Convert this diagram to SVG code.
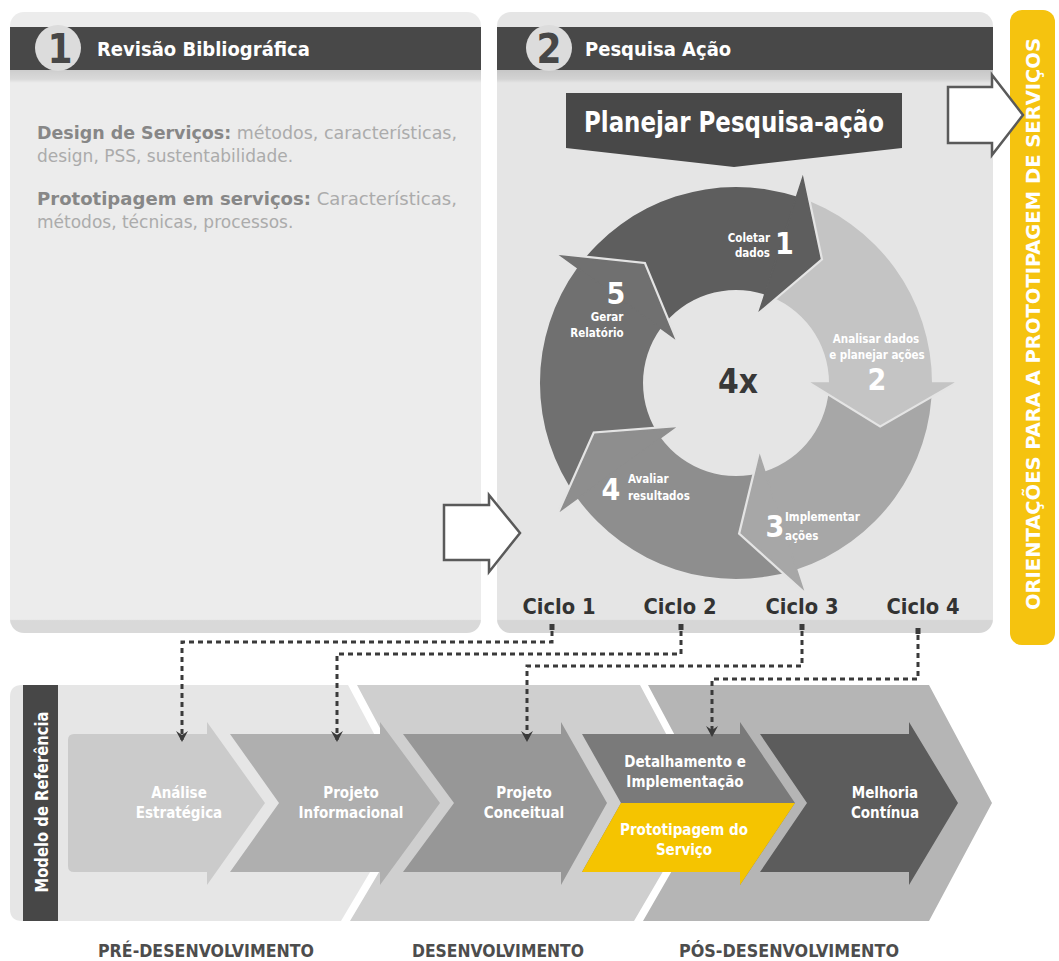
<svg xmlns="http://www.w3.org/2000/svg" width="1059" height="961" viewBox="0 0 1059 961">
<defs>
<style>
text{font-family:'DejaVu Sans Condensed','DejaVu Sans',sans-serif}
.hdr{fill:#484848}
.title{fill:#fff;font-size:20px;font-weight:bold}
.num{fill:#474747;font-size:40px;font-weight:bold;text-anchor:middle}
.ncirc{fill:#dcdcdc}
.body{font-family:'DejaVu Sans',sans-serif;font-size:17px;fill:#ababab}
.bb{font-weight:bold;fill:#878787}
.cyc{fill:#fff;font-weight:bold;font-size:11.5px}
.cycn{fill:#fff;font-weight:bold;font-size:30px}
.ciclo{fill:#333;font-size:21px;font-weight:bold;text-anchor:middle}
.stage{fill:#fff;font-size:15px;font-weight:bold;text-anchor:middle}
.phase{fill:#4d4d4d;font-size:17px;font-weight:bold;text-anchor:middle}
.conn{fill:none;stroke:#3a3a3a;stroke-width:3;stroke-dasharray:5 4}
.dot{fill:#3a3a3a}
.warrow{fill:#fff;stroke:#5a5a5a;stroke-width:2.5;stroke-linejoin:miter}
.gap{fill:none;stroke:#e4e4e4;stroke-width:6;stroke-linejoin:miter}
</style>
<linearGradient id="pg1" x1="0" y1="0" x2="0" y2="1">
<stop offset="0" stop-color="#ececec"/><stop offset="0.978" stop-color="#ececec"/><stop offset="0.98" stop-color="#d9d9d9"/><stop offset="1" stop-color="#d9d9d9"/>
</linearGradient>
<linearGradient id="pg2" x1="0" y1="0" x2="0" y2="1">
<stop offset="0" stop-color="#e5e5e5"/><stop offset="0.978" stop-color="#e5e5e5"/><stop offset="0.98" stop-color="#d6d6d6"/><stop offset="1" stop-color="#d6d6d6"/>
</linearGradient>
<linearGradient id="sh" x1="0" y1="0" x2="0" y2="1">
<stop offset="0" stop-color="#000" stop-opacity="0.13"/><stop offset="0.7" stop-color="#000" stop-opacity="0.08"/><stop offset="1" stop-color="#000" stop-opacity="0"/>
</linearGradient>
<marker id="ah" viewBox="0 0 12 12" refX="9" refY="6" markerWidth="12" markerHeight="12" markerUnits="userSpaceOnUse" orient="auto">
<path d="M0,0 L11,6 L0,12 L4,6 Z" fill="#3a3a3a"/>
</marker>
</defs>

<g id="panel-revisao">
<rect x="10" y="12" width="471" height="621" rx="14" fill="url(#pg1)"/>
<rect class="hdr" x="10" y="27" width="471" height="43"/>
<rect x="10" y="70" width="471" height="13" fill="url(#sh)"/>
<circle class="ncirc" cx="58" cy="48" r="23"/>
<text class="num" x="60" y="63">1</text>
<text class="title" x="97" y="56">Revisão Bibliográfica</text>
<text class="body" x="37" y="139" textLength="420" lengthAdjust="spacingAndGlyphs"><tspan class="bb">Design de Serviços:</tspan> métodos, características,</text>
<text class="body" x="37" y="162">design, PSS, sustentabilidade.</text>
<text class="body" x="37" y="205" textLength="420" lengthAdjust="spacingAndGlyphs"><tspan class="bb">Prototipagem em serviços:</tspan> Características,</text>
<text class="body" x="37" y="228">métodos, técnicas, processos.</text>
</g>

<g id="panel-pesquisa">
<rect x="497" y="12" width="496" height="621" rx="14" fill="url(#pg2)"/>
<rect class="hdr" x="497" y="27" width="496" height="43"/>
<rect x="497" y="70" width="496" height="13" fill="url(#sh)"/>
<circle class="ncirc" cx="549" cy="48" r="23"/>
<text class="num" x="549" y="63">2</text>
<text class="title" x="585" y="56">Pesquisa Ação</text>
</g>

<g id="planejar">
<polygon points="566,93 902,93 902,148 734,167 566,148" fill="#484848"/>
<text x="734" y="132" fill="#fff" font-size="29" font-weight="bold" text-anchor="middle" textLength="300" lengthAdjust="spacingAndGlyphs">Planejar Pesquisa-ação</text>
</g>

<g id="ciclo-pesquisa">
<path d="M577.4,267.8 A196,196 0 0 1 796.6,196.6 L764.7,294.5 A93,93 0 0 0 660.8,328.3 Z" fill="#5e5e5e"/>
<path d="M796.6,196.6 A196,196 0 0 1 932,383 L829,383 A93,93 0 0 0 764.7,294.5 Z" fill="#c4c4c4"/>
<path d="M932,383 A196,196 0 0 1 796.6,569.4 L764.7,471.5 A93,93 0 0 0 829,383 Z" fill="#a7a7a7"/>
<path d="M796.6,569.4 A196,196 0 0 1 577.4,498.2 L660.8,437.7 A93,93 0 0 0 764.7,471.5 Z" fill="#8e8e8e"/>
<path d="M577.4,498.2 A196,196 0 0 1 577.4,267.8 L660.8,328.3 A93,93 0 0 0 660.8,437.7 Z" fill="#707070"/>
<polyline class="gap" points="802.7,177.6 819.9,258.6 759.8,309.8"/>
<polygon points="759.8,309.8 802.7,177.6 819.9,258.6" fill="#5e5e5e" stroke="#5e5e5e" stroke-width="1.5"/>
<polyline class="gap" points="952,383 880.2,424.3 813,383"/>
<polygon points="952,383 880.2,424.3 813,383" fill="#c4c4c4" stroke="#c4c4c4" stroke-width="1.5"/>
<polyline class="gap" points="802.7,588.4 741.2,532.9 759.8,456.2"/>
<polygon points="802.7,588.4 741.2,532.9 759.8,456.2" fill="#a7a7a7" stroke="#a7a7a7" stroke-width="1.5"/>
<polyline class="gap" points="561.3,510 595,434.3 673.7,428.3"/>
<polygon points="561.3,510 595,434.3 673.7,428.3" fill="#8e8e8e" stroke="#8e8e8e" stroke-width="1.5"/>
<polyline class="gap" points="561.3,256 643.6,264.8 673.7,337.7"/>
<polygon points="561.3,256 643.6,264.8 673.7,337.7" fill="#707070" stroke="#707070" stroke-width="1.5"/>
<text x="738" y="393" fill="#383838" font-size="34" font-weight="bold" text-anchor="middle" textLength="40" lengthAdjust="spacingAndGlyphs">4x</text>
<text class="cyc" x="770" y="242" text-anchor="end">Coletar</text>
<text class="cyc" x="770" y="257" text-anchor="end">dados</text>
<text class="cycn" x="775" y="254" font-size="26">1</text>
<text class="cyc" x="876" y="343" text-anchor="middle" fill="#f4f4f4">Analisar dados</text>
<text class="cyc" x="877" y="359" text-anchor="middle" fill="#f4f4f4">e planejar ações</text>
<text class="cycn" x="877" y="390" text-anchor="middle">2</text>
<text class="cycn" x="775" y="537" text-anchor="middle">3</text>
<text class="cyc" x="785" y="521">Implementar</text>
<text class="cyc" x="785" y="540">ações</text>
<text class="cycn" x="611" y="500" text-anchor="middle">4</text>
<text class="cyc" x="628" y="483">Avaliar</text>
<text class="cyc" x="628" y="500">resultados</text>
<text class="cycn" x="616" y="304" text-anchor="middle">5</text>
<text class="cyc" x="607" y="321" text-anchor="middle">Gerar</text>
<text class="cyc" x="597" y="337" text-anchor="middle">Relatório</text>
</g>

<g id="ciclos">
<text class="ciclo" x="559" y="614" textLength="73" lengthAdjust="spacingAndGlyphs">Ciclo 1</text>
<text class="ciclo" x="680" y="614" textLength="73" lengthAdjust="spacingAndGlyphs">Ciclo 2</text>
<text class="ciclo" x="802" y="614" textLength="73" lengthAdjust="spacingAndGlyphs">Ciclo 3</text>
<text class="ciclo" x="923" y="614" textLength="73" lengthAdjust="spacingAndGlyphs">Ciclo 4</text>
</g>

<g id="orientacoes">
<rect x="1010" y="10" width="45" height="635" rx="12" fill="#f5c30f"/>
<text transform="translate(1040,324) rotate(-90)" fill="#fff" font-size="19" font-weight="bold" text-anchor="middle" textLength="572" lengthAdjust="spacingAndGlyphs">ORIENTAÇÕES PARA A PROTOTIPAGEM DE SERVIÇOS</text>
</g>

<g id="setas-brancas">
<polygon class="warrow" points="948,87 992,87 992,75 1023,115 992,155 992,143 948,143"/>
<polygon class="warrow" points="444,505 489,505 489,495 520,533 489,572 489,560 444,560"/>
</g>

<g id="modelo-referencia">
<path d="M22,685 H348 L411,803 L341,921 H22 Q10,921 10,909 V697 Q10,685 22,685 Z" fill="#e6e6e6"/>
<path d="M357,685 H640 L703,803 L634,921 H350 L420,803 Z" fill="#cfcfcf"/>
<path d="M648,685 H929 L992,803 L929,921 H643 L711,803 Z" fill="#b5b5b5"/>
<rect x="23" y="685" width="35" height="236" fill="#474747"/>
<text transform="translate(48,802) rotate(-90)" fill="#fff" font-size="17" font-weight="bold" text-anchor="middle" textLength="181" lengthAdjust="spacingAndGlyphs">Modelo de Referência</text>
</g>

<g id="analise-estrategica">
<path d="M74,734 H207 V722 L265,803 L207,885 V872 H74 Q68,872 68,866 V740 Q68,734 74,734 Z" fill="#cbcbcb"/>
<text class="stage" x="179" y="798" fill="#f3f3f3">Análise</text>
<text class="stage" x="179" y="818" fill="#f3f3f3">Estratégica</text>
</g>
<g id="projeto-informacional">
<path d="M230,734 H380 V722 L440,803 L380,885 V872 H230 L279,803 Z" fill="#afafaf"/>
<text class="stage" x="351" y="798">Projeto</text>
<text class="stage" x="351" y="818">Informacional</text>
</g>
<g id="projeto-conceitual">
<path d="M403,734 H561 V722 L607,803 L561,885 V872 H403 L454,803 Z" fill="#979797"/>
<text class="stage" x="524" y="798">Projeto</text>
<text class="stage" x="524" y="818">Conceitual</text>
</g>
<g id="detalhamento">
<path d="M582,734 H740 V722 L795,803 L740,885 V872 H582 L621,803 Z" fill="#7a7a7a"/>
<path d="M621,803 H795 L740,885 V872 H582 Z" fill="#f5c400"/>
<text class="stage" x="685" y="767">Detalhamento e</text>
<text class="stage" x="685" y="787">Implementação</text>
<text class="stage" x="684" y="835" fill="#4a3c00">Prototipagem do</text>
<text class="stage" x="684" y="855" fill="#4a3c00">Serviço</text>
</g>
<g id="melhoria-continua">
<path d="M760,734 H909 V722 L958,803 L909,885 V872 H760 L807,803 Z" fill="#5c5c5c"/>
<text class="stage" x="885" y="798">Melhoria</text>
<text class="stage" x="885" y="818">Contínua</text>
</g>

<g id="fases">
<text class="phase" x="206" y="957" textLength="216" lengthAdjust="spacingAndGlyphs">PRÉ-DESENVOLVIMENTO</text>
<text class="phase" x="498" y="957" textLength="172" lengthAdjust="spacingAndGlyphs">DESENVOLVIMENTO</text>
<text class="phase" x="789" y="957" textLength="220" lengthAdjust="spacingAndGlyphs">PÓS-DESENVOLVIMENTO</text>
</g>

<g id="connectors">
<rect class="dot" x="549.5" y="624" width="5" height="6"/>
<rect class="dot" x="678.5" y="624" width="5" height="6"/>
<rect class="dot" x="799.5" y="624" width="5" height="6"/>
<rect class="dot" x="915.5" y="628" width="5" height="6"/>
<polyline class="conn" points="552,631 552,642 182,642 182,740" marker-end="url(#ah)"/>
<polyline class="conn" points="681,631 681,654 337,654 337,740" marker-end="url(#ah)"/>
<polyline class="conn" points="802,631 802,666 527,666 527,740" marker-end="url(#ah)"/>
<polyline class="conn" points="918,635 918,679 712,679 712,735" marker-end="url(#ah)"/>
</g>
</svg>
